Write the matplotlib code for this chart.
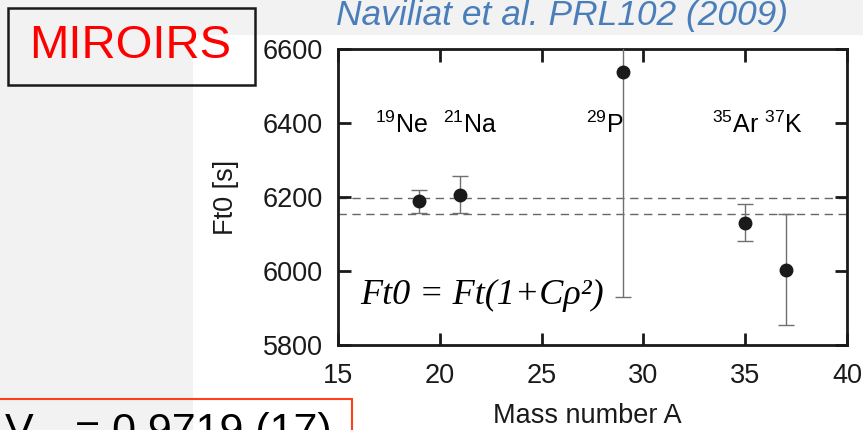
import matplotlib
matplotlib.use("Agg")
import matplotlib.pyplot as plt
from matplotlib.patches import Rectangle

plt.rcParams["font.family"] = ["Liberation Sans", "DejaVu Sans"]
plt.rcParams["mathtext.fontset"] = "custom"
plt.rcParams["mathtext.rm"] = "Liberation Sans"
plt.rcParams["mathtext.it"] = "Liberation Sans:italic"

# mirror transitions: mass number, corrected Ft0 value and error [s]
mass = [19, 21, 29, 35, 37]
ft0 = [6188, 6206, 6539, 6131, 6004]
ft0_err = [31, 50, 610, 51, 150]

# band of the weighted average
band = [6196, 6153]

iso_labels = [r"$^{19}$Ne", r"$^{21}$Na", r"$^{29}$P", r"$^{35}$Ar $^{37}$K"]
iso_x = [16.8, 20.15, 27.2, 33.35]

xticks = [15, 20, 25, 30, 35, 40]
yticks = [5800, 6000, 6200, 6400, 6600]

W, H = 863, 430
fig = plt.figure(figsize=(W / 100, H / 100), dpi=100, facecolor="#f2f2f2")

# white area behind the plot
fig.patches.append(Rectangle((193 / W, 0), 1 - 193 / W, 1 - 35 / H,
                             transform=fig.transFigure, facecolor="white",
                             edgecolor="none", zorder=-1))

ax = fig.add_axes([338 / W, 1 - 345 / H, (847 - 338) / W, (345 - 49) / H])
ax.set_facecolor("white")

for yb in band:
    ax.axhline(yb, color="#666666", lw=1.0, dashes=(6, 4), zorder=1)

ax.errorbar(mass, ft0, yerr=ft0_err, fmt="o", color="#1a1a1a", ms=9,
            ecolor="#707070", elinewidth=1.0, capsize=5.5, capthick=1.0,
            zorder=3)

for lab, xl in zip(iso_labels, iso_x):
    ax.text(xl, 6373, lab, fontsize=18, ha="left", va="baseline")

ax.text(16.1, 5911, "Ft0 = Ft(1+C\u03c1\u00b2)", family="Liberation Serif",
        style="italic", fontsize=26, ha="left", va="baseline")

ax.set_xlim(15, 40)
ax.set_ylim(5800, 6600)
ax.set_xticks(xticks)
ax.set_yticks(yticks)
ax.tick_params(direction="in", length=9, width=2, top=True, right=True,
               labelsize=19.5, colors="#1a1a1a")
ax.tick_params(axis="y", pad=11)
ax.tick_params(axis="x", pad=13)
for sp in ax.spines.values():
    sp.set_linewidth(2)
    sp.set_color("#1a1a1a")

ax.set_xlabel("Mass number A", fontsize=19.5, color="#1a1a1a")
ax.xaxis.set_label_coords(0.49, -0.197)
ax.xaxis.label.set_va("top")
ax.set_ylabel("Ft0 [s]", fontsize=19.5, color="#1a1a1a")
ax.yaxis.set_label_coords(-0.195, 0.5)

fig.text(562 / W, 1 - 16 / H, "Naviliat et al. PRL102 (2009)", color="#4a7ebb",
         style="italic", fontsize=25.5, ha="center", va="center")

# title box
fig.patches.append(Rectangle((8 / W, 1 - 85 / H), 247 / W, 77 / H,
                             transform=fig.transFigure, facecolor="none",
                             edgecolor="#1a1a1a", lw=1.8, zorder=5))
fig.text(130 / W, 1 - 46 / H, "MIROIRS", color="#ff0000", fontsize=34,
         ha="center", va="center", zorder=6)

# result box at the bottom
fig.patches.append(Rectangle((-5 / W, -40 / H), 357 / W, 71 / H,
                             transform=fig.transFigure, facecolor="none",
                             edgecolor="#ff3f1a", lw=1.5, zorder=5))
fig.text(5 / W, 1 - 443 / H, "V", fontsize=31, ha="left", va="baseline")
fig.text(36 / W, 1 - 452 / H, "ud", fontsize=20, ha="left", va="baseline")
fig.text(75 / W, 1 - 443 / H, "= 0.9719 (17)", fontsize=31, ha="left",
         va="baseline")

fig.savefig("out.png", dpi=100)
